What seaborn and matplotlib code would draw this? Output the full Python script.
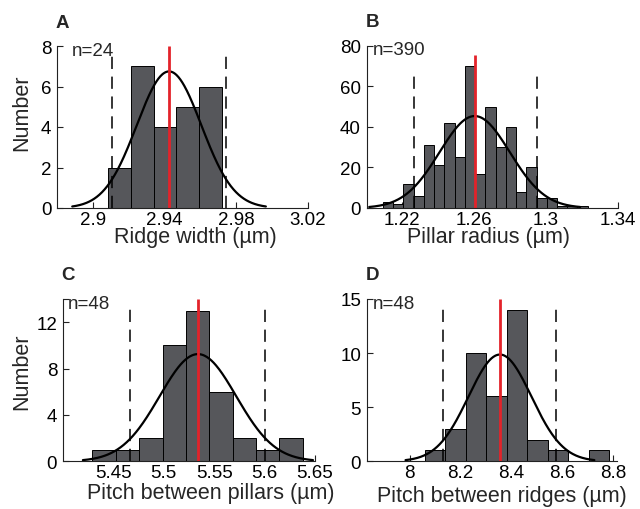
import numpy as np
import pandas as pd
import matplotlib
matplotlib.use("Agg")
import matplotlib.pyplot as plt
import seaborn as sns

# ---- measured data -------------------------------------------------------
# A: ridge width
ridge_counts = [2, 7, 4, 5, 6]
ridge_bin_range = (2.9086, 2.9720)
ridge_mean, ridge_sd = 2.9425, 0.0180
ridge_limits = (2.9105, 2.9742)
ridge_n = 24

# B: pillar radius
pillar_counts = [3, 2, 12, 6, 31, 21, 42, 25, 70, 17,
                 50, 30, 40, 8, 20, 5, 5, 1, 1, 1]
pillar_bin_range = (1.2091, 1.3233)
pillar_mean, pillar_sd = 1.2603, 0.0196
pillar_limits = (1.2263, 1.2953)
pillar_n = 390

# C: pitch between pillars
ppitch_counts = [1, 1, 2, 10, 13, 6, 2, 1, 2]
ppitch_bin_range = (5.4294, 5.6380)
ppitch_mean, ppitch_sd = 5.534, 0.038
ppitch_limits = (5.4668, 5.6000)
ppitch_n = 48

# D: pitch between ridges
rpitch_counts = [1, 3, 10, 6, 14, 2, 1, 0, 1]
rpitch_bin_range = (8.0597, 8.7860)
rpitch_mean, rpitch_sd = 8.355, 0.124
rpitch_limits = (8.132, 8.576)
rpitch_n = 48

panel_letters = ["A", "B", "C", "D"]
x_labels = ["Ridge width (µm)", "Pillar radius (µm)",
            "Pitch between pillars (µm)", "Pitch between ridges (µm)"]
x_ticks = [[2.9, 2.94, 2.98, 3.02], [1.22, 1.26, 1.3, 1.34],
           [5.45, 5.5, 5.55, 5.6, 5.65], [8, 8.2, 8.4, 8.6, 8.8]]
x_tick_labels = [["2.9", "2.94", "2.98", "3.02"], ["1.22", "1.26", "1.3", "1.34"],
                 ["5.45", "5.5", "5.55", "5.6", "5.65"], ["8", "8.2", "8.4", "8.6", "8.8"]]
y_ticks = [[0, 2, 4, 6, 8], [0, 20, 40, 60, 80], [0, 4, 8, 12], [0, 5, 10, 15]]
# ---------------------------------------------------------------------------

sns.set_style("ticks")
plt.rcParams["font.family"] = ["Liberation Sans", "DejaVu Sans"]
plt.rcParams["axes.linewidth"] = 0.8

W, H = 640, 510
fig = plt.figure(figsize=(W / 100, H / 100), dpi=100)

def px_axes(left, top, right, bottom):
    return fig.add_axes([left / W, 1 - bottom / H, (right - left) / W, (bottom - top) / H])

panels = [
    dict(rect=(57, 47, 308, 209), counts=ridge_counts, rng=ridge_bin_range,
         mean=ridge_mean, sd=ridge_sd, lims=ridge_limits, n=ridge_n,
         xlim=(2.88, 3.02), ylim=(0, 8), dash_top=7.65, red_top=8,
         n_off=(10.6, -3.4), ylabel=True, ylab_y=0.596, xlab=(0.05, -0.178)),
    dict(rect=(366.5, 46.7, 617.7, 209), counts=pillar_counts, rng=pillar_bin_range,
         mean=pillar_mean, sd=pillar_sd, lims=pillar_limits, n=pillar_n,
         xlim=(1.20, 1.34), ylim=(0, 80), dash_top=66, red_top=75.4,
         n_off=(4.8, -2.4), ylabel=False, ylab_y=None, xlab=(-0.015, -0.178)),
    dict(rect=(62.7, 300, 315, 462.3), counts=ppitch_counts, rng=ppitch_bin_range,
         mean=ppitch_mean, sd=ppitch_sd, lims=ppitch_limits, n=ppitch_n,
         xlim=(5.40, 5.65), ylim=(0, 14), dash_top=13.3, red_top=14,
         n_off=(3.8, -2.9), ylabel=True, ylab_y=0.556, xlab=(0.086, -0.195)),
    dict(rect=(366.7, 300, 616.7, 462.3), counts=rpitch_counts, rng=rpitch_bin_range,
         mean=rpitch_mean, sd=rpitch_sd, lims=rpitch_limits, n=rpitch_n,
         xlim=(7.83, 8.815), ylim=(0, 15), dash_top=14.4, red_top=15,
         n_off=(4.5, -3.1), ylabel=False, ylab_y=None, xlab=(0.04, -0.208)),
]

BAR = "#56575b"
RED = "#e3232a"

for i, p in enumerate(panels):
    ax = px_axes(*p["rect"])
    counts = np.asarray(p["counts"], dtype=float)
    nbins = len(counts)
    bw = (p["rng"][1] - p["rng"][0]) / nbins
    centers = p["rng"][0] + bw * (np.arange(nbins) + 0.5)
    df = pd.DataFrame({"value": centers, "count": counts})
    sns.histplot(data=df, x="value", weights="count", bins=nbins,
                 binrange=p["rng"], ax=ax, color=BAR, alpha=1.0,
                 edgecolor="black", linewidth=0.7)

    # fitted normal curve scaled to the histogram
    xs = np.linspace(p["mean"] - 3 * p["sd"], p["mean"] + 3 * p["sd"], 300)
    ys = counts.sum() * bw / (p["sd"] * np.sqrt(2 * np.pi)) * np.exp(-0.5 * ((xs - p["mean"]) / p["sd"]) ** 2)
    sns.lineplot(x=xs, y=ys, ax=ax, color="black", linewidth=1.6)

    ax.vlines(p["lims"], 0, p["dash_top"], colors="black", linewidth=1.1,
              linestyles=(0, (8, 5)))
    ax.vlines([p["mean"]], 0, p["red_top"], colors=RED, linewidth=2.0)

    ax.set_xlim(*p["xlim"])
    ax.set_ylim(*p["ylim"])
    ax.set_xticks(x_ticks[i])
    ax.set_xticklabels(x_tick_labels[i])
    ax.set_yticks(y_ticks[i])
    if p["ylim"][1] not in y_ticks[i]:
        ax.set_yticks([p["ylim"][1]], minor=True)
    ax.tick_params(axis="both", which="both", direction="in", length=4, width=0.8,
                   labelsize=13.5, colors="#222222", labelcolor="black")
    ax.tick_params(axis="x", pad=2)
    ax.tick_params(axis="y", pad=4)
    sns.despine(ax=ax)
    for s in ("left", "bottom"):
        ax.spines[s].set_color("#222222")

    ax.set_xlabel(x_labels[i], fontsize=15.5)
    ax.xaxis.label.set_va("center")
    ax.xaxis.set_label_coords(0.5 + p["xlab"][0], p["xlab"][1])
    if p["ylabel"]:
        ax.set_ylabel("Number", fontsize=15.5)
        ax.yaxis.label.set_va("center")
        ax.yaxis.set_label_coords((22 - p["rect"][0]) / (p["rect"][2] - p["rect"][0]), p["ylab_y"])
    else:
        ax.set_ylabel("")

    ax.annotate(f"n={p['n']}", xy=(0, 1), xycoords="axes fraction",
                xytext=p["n_off"], textcoords="offset points",
                ha="left", va="center", fontsize=13.5)

    left, top = p["rect"][0], p["rect"][1]
    fig.text((left - 1) / W, 1 - (top - 24) / H, panel_letters[i],
             ha="left", va="center", fontsize=13.5, fontweight="bold")

fig.savefig("out.png", dpi=100)
